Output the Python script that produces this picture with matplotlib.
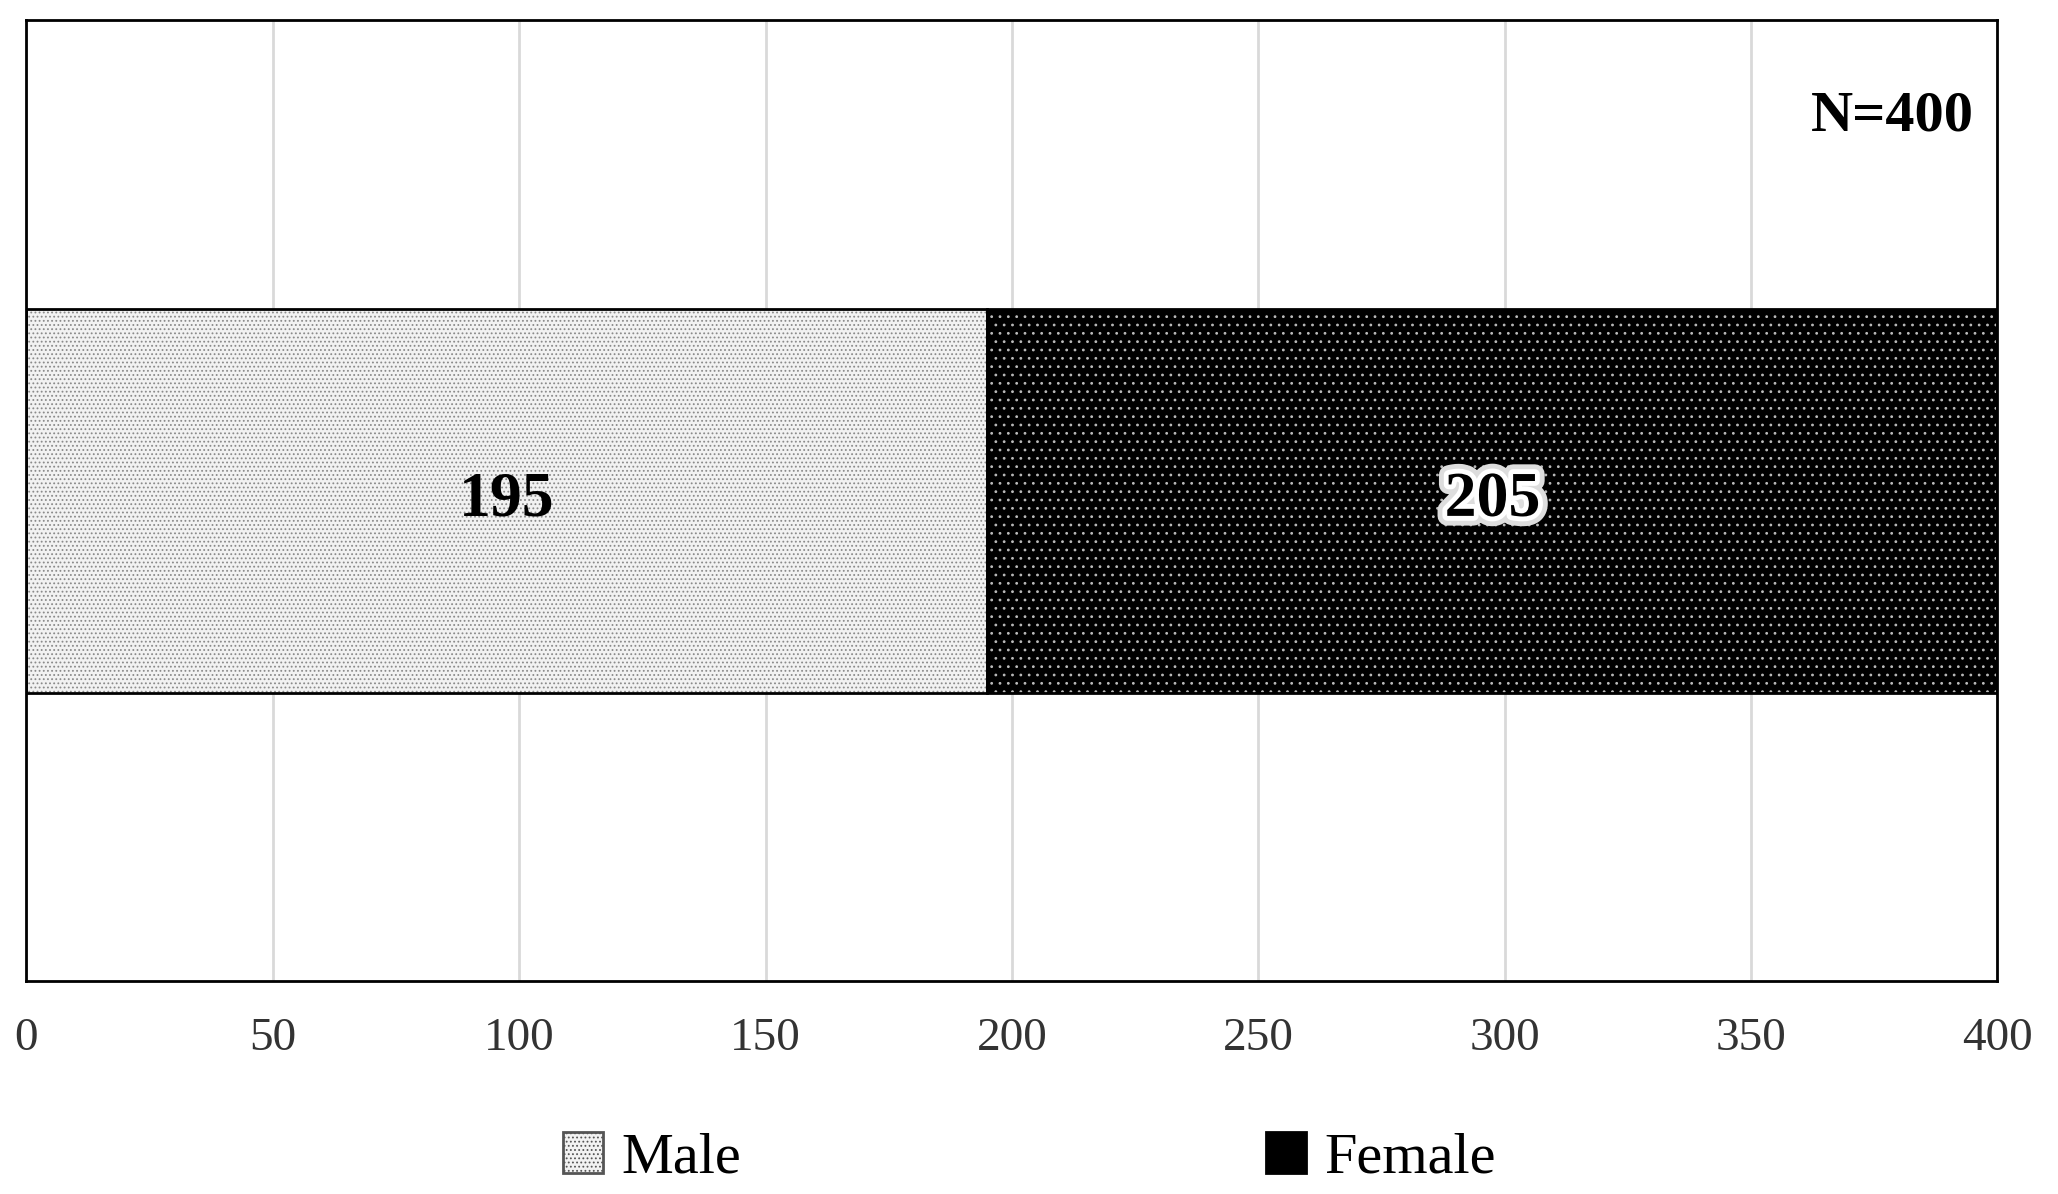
import matplotlib
matplotlib.use("Agg")
import matplotlib.pyplot as plt
import matplotlib.patheffects as pe
from matplotlib.patches import Patch

categories = ["Male", "Female"]
values = [195, 205]
total_label = "N=400"
ticks = [0, 50, 100, 150, 200, 250, 300, 350, 400]

plt.rcParams['font.family'] = ['Liberation Serif', 'DejaVu Serif']
plt.rcParams['hatch.linewidth'] = 0.8

fig = plt.figure(figsize=(20.58, 11.94), dpi=100)
ax = fig.add_axes([0.0128, 0.178, 0.9578, 0.805])

faces = ["#f2f2f2", "black"]
hatchcol = ["#8a8a8a", "#bbbbbb"]
hatches = ["....", ".."]
left = 0
for v, fc, hc, h in zip(values, faces, hatchcol, hatches):
    ax.barh(0, v, left=left, height=0.8, color=fc, edgecolor=hc, hatch=h, linewidth=0, zorder=2)
    ax.barh(0, v, left=left, height=0.8, fill=False, edgecolor="black", linewidth=2, zorder=3)
    left += v

l = 0
for i, v in enumerate(values):
    kw = {}
    if i == 1:
        kw = dict(path_effects=[pe.withStroke(linewidth=14, foreground="#dddddd"),
                                pe.withStroke(linewidth=7, foreground="white")])
    ax.text(l + v / 2, 0, str(v), ha="center", va="center", fontsize=46,
            fontweight="bold", color="black", zorder=4, **kw)
    l += v

ax.text(0.988, 0.9, total_label, transform=ax.transAxes, ha="right", va="center",
        fontsize=42, fontweight="bold")

ax.set_xlim(0, 400)
ax.set_ylim(-1, 1)
ax.set_yticks([])
ax.set_xticks(ticks)
ax.tick_params(axis="x", length=0, labelsize=34, pad=26, colors="#333333")
ax.grid(axis="x", color="#d9d9d9", linewidth=2, zorder=0)
ax.set_axisbelow(True)
for s in ax.spines.values():
    s.set_linewidth(2)
    s.set_color("black")

handles = [Patch(facecolor="#f2f2f2", edgecolor="#555555", hatch="....", linewidth=2),
           Patch(facecolor="black", edgecolor="black", linewidth=2)]
fig.legend(handles, categories, loc="center", bbox_to_anchor=(0.5, 0.03), ncol=2,
           frameon=False, fontsize=42, columnspacing=9, handlelength=0.7,
           handleheight=0.7, handletextpad=0.3)

fig.savefig("out.png", dpi=100, facecolor="white")
